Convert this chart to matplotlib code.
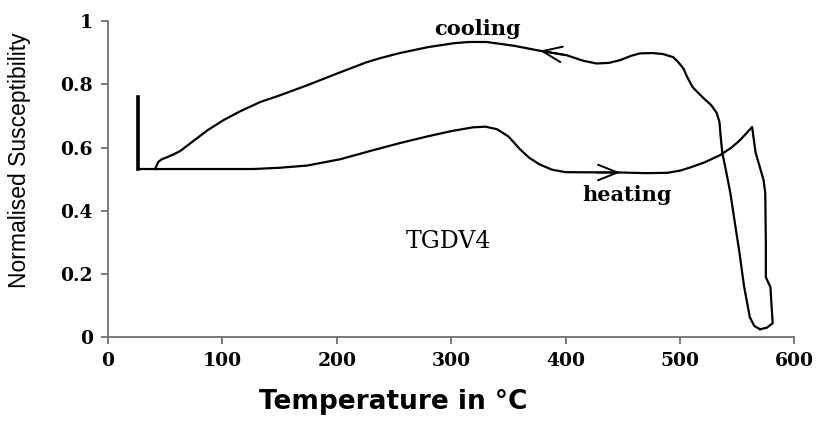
import numpy as np
import matplotlib
matplotlib.use("Agg")
import matplotlib.pyplot as plt

# heating run: flat start, hump near 330 C, peak near 563 C, then the Curie drop
heat_t = [26, 127, 150, 174, 203, 230, 255, 280, 300, 319, 330, 340, 350, 360,
          368, 377, 388, 400, 448, 470, 489, 500, 509, 522, 535, 545, 552, 558,
          563, 566, 570, 573, 574.5, 575, 575, 579, 580, 581, 576, 570]
heat_k = [0.532, 0.532, 0.536, 0.543, 0.563, 0.590, 0.614, 0.636, 0.652, 0.664,
          0.666, 0.658, 0.635, 0.595, 0.568, 0.547, 0.530, 0.522, 0.521, 0.519,
          0.520, 0.527, 0.537, 0.554, 0.576, 0.600, 0.622, 0.645, 0.665, 0.585,
          0.535, 0.497, 0.456, 0.300, 0.190, 0.158, 0.100, 0.044, 0.030, 0.025]

# cooling run back down to room temperature
cool_t = [570, 565, 561, 556, 552, 548, 544, 540, 537, 535.5, 534.5, 532, 527,
          520, 511, 506, 503, 498, 494, 485, 476, 465, 457, 448, 438, 427, 415,
          401, 388, 375, 355, 331, 315, 302, 280, 255, 238, 226, 200, 174, 150,
          133, 115, 101, 87, 75, 63, 57, 52, 47, 44, 42, 41]
cool_k = [0.025, 0.035, 0.063, 0.160, 0.266, 0.360, 0.456, 0.530, 0.582, 0.635,
          0.680, 0.710, 0.735, 0.758, 0.791, 0.825, 0.850, 0.872, 0.886, 0.896,
          0.899, 0.898, 0.890, 0.877, 0.868, 0.866, 0.875, 0.892, 0.900, 0.908,
          0.922, 0.934, 0.934, 0.930, 0.918, 0.899, 0.883, 0.870, 0.834, 0.797,
          0.765, 0.744, 0.714, 0.687, 0.655, 0.622, 0.589, 0.578, 0.570, 0.563,
          0.555, 0.540, 0.532]

# initial reading at room temperature
start_t = [26, 26]
start_k = [0.76, 0.532]

x_ticks = [0, 100, 200, 300, 400, 500, 600]
y_ticks = [0, 0.2, 0.4, 0.6, 0.8, 1]
y_tick_labels = ["0", "0.2", "0.4", "0.6", "0.8", "1"]

fig = plt.figure(figsize=(8.19, 4.23), dpi=100)
ax = fig.add_axes([0.132, 0.203, 0.838, 0.747])

ax.plot(heat_t, heat_k, color="black", lw=1.6, solid_joinstyle="round")
ax.plot(cool_t, cool_k, color="black", lw=1.6, solid_joinstyle="round")
ax.plot(start_t, start_k, color="black", lw=2.6)

# direction arrows
arrow = dict(arrowstyle="->, head_length=0.7, head_width=0.28", color="black",
             lw=1.4, mutation_scale=20)
ax.annotate("", xy=(375, 0.908), xytext=(401, 0.892), arrowprops=arrow)
ax.annotate("", xy=(450, 0.521), xytext=(425, 0.521), arrowprops=arrow)

serif = "DejaVu Serif"
ax.text(323, 0.975, "cooling", family=serif, fontsize=15, fontweight="bold",
        ha="center", va="center")
ax.text(454, 0.45, "heating", family=serif, fontsize=15, fontweight="bold",
        ha="center", va="center")
ax.text(298, 0.304, "TGDV4", family=serif, fontsize=17, ha="center", va="center")

ax.set_xlim(0, 600)
ax.set_ylim(0, 1)
ax.set_xticks(x_ticks)
ax.set_yticks(y_ticks)
ax.set_yticklabels(y_tick_labels)
for lab in ax.get_xticklabels() + ax.get_yticklabels():
    lab.set_family(serif)
    lab.set_fontweight("bold")
    lab.set_fontsize(13.5)

for side in ("top", "right"):
    ax.spines[side].set_visible(False)
for side in ("left", "bottom"):
    ax.spines[side].set_color("#707070")
    ax.spines[side].set_linewidth(1.3)
ax.tick_params(direction="out", length=5, width=1.3, color="#707070", pad=6)

ax.set_xlabel("Temperature in °C", family="DejaVu Sans", fontsize=19,
              fontweight="bold")
ax.xaxis.set_label_coords(0.415, -0.165)
ax.set_ylabel("Normalised Susceptibility", family="Liberation Sans", fontsize=16.5)
ax.yaxis.set_label_coords(-0.113, 0.56)

fig.savefig("out.png", dpi=100)
